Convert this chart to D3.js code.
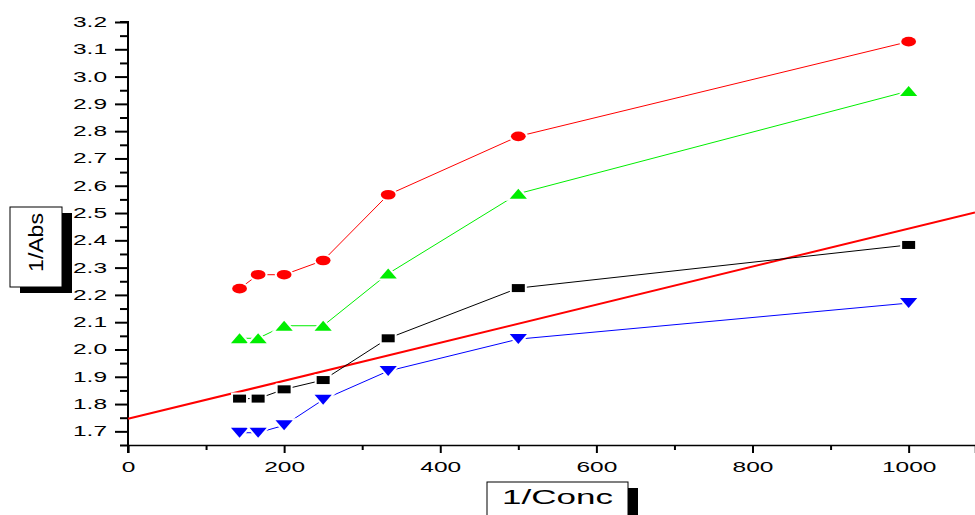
<!DOCTYPE html>
<html>
<head>
<meta charset="utf-8">
<script src="https://cdn.jsdelivr.net/npm/d3@7"></script>
<style>
  body { margin: 0; background: #fff; }
  text { font-family: "Liberation Sans", Arial, sans-serif; fill: #000; }
</style>
</head>
<body>
<div class="chart"></div>
<script>
// data
var concX = [142.9, 166.7, 200, 250, 333.3, 500, 1000];
var redCircles = [2.223, 2.274, 2.274, 2.326, 2.567, 2.781, 3.128];
var greenUp = [2.041, 2.041, 2.087, 2.087, 2.278, 2.571, 2.947];
var blackSquares = [1.820, 1.820, 1.854, 1.888, 2.041, 2.225, 2.383];
var blueDown = [1.695, 1.695, 1.722, 1.816, 1.921, 2.038, 2.170];
// linear fit line (intercept, slope)
var fitLine = [1.746, 0.000697];

var xTicks = [0, 200, 400, 600, 800, 1000];
var xMinor = [100, 300, 500, 700, 900];
var yTicks = [1.7, 1.8, 1.9, 2.0, 2.1, 2.2, 2.3, 2.4, 2.5, 2.6, 2.7, 2.8, 2.9, 3.0, 3.1, 3.2];
var yMinor = [1.65, 1.75, 1.85, 1.95, 2.05, 2.15, 2.25, 2.35, 2.45, 2.55, 2.65, 2.75, 2.85, 2.95, 3.05, 3.15];

var svgWidth = 975;
var svgHeight = 515;
var stretch = 1.75; // text in the picture is wide

var svg = d3.select(".chart")
   .append("svg")
   .attr("width", svgWidth)
   .attr("height", svgHeight);

svg.append("rect").attr("width", svgWidth).attr("height", svgHeight).attr("fill", "#fff");

var xLinearScale = d3.scaleLinear().domain([0, 1085]).range([128, 975]);
var yLinearScale = d3.scaleLinear().domain([1.65, 3.2]).range([445, 22]);

// Axes
var bottomAxis = d3.axisBottom(xLinearScale).tickValues(xTicks).tickSize(8).tickFormat(d3.format("d"));
var bottomMinor = d3.axisBottom(xLinearScale).tickValues(xMinor).tickSize(5).tickFormat("");
var leftAxis = d3.axisLeft(yLinearScale).tickValues(yTicks).tickSize(13).tickFormat(d3.format(".1f"));
var leftMinor = d3.axisLeft(yLinearScale).tickValues(yMinor).tickSize(8).tickFormat("");

var xg = svg.append("g").attr("transform", "translate(0,445)").call(bottomAxis);
svg.append("g").attr("transform", "translate(0,445)").call(bottomMinor).select(".domain").remove();
xg.select(".domain").attr("stroke-width", 1.5);
xg.selectAll(".tick line").attr("stroke-width", 2);
xg.selectAll(".tick text")
  .attr("y", 0).attr("dy", null)
  .attr("transform", "translate(0,26.5) scale(" + stretch + ",1)")
  .style("font-size", "14px");

var yg = svg.append("g").attr("transform", "translate(128,0)").call(leftAxis);
svg.append("g").attr("transform", "translate(128,0)").call(leftMinor).select(".domain").remove();
yg.select(".domain").attr("stroke-width", 2).attr("d", "M-8,22H0V453");
yg.selectAll(".tick line").attr("stroke-width", 2);
yg.selectAll(".tick text")
  .attr("x", 0)
  .attr("transform", "translate(-21,0) scale(" + stretch + ",1)")
  .style("font-size", "14px");
svg.selectAll(".tick line").attr("stroke-width", 2);
svg.selectAll(".domain").attr("stroke", "#000");

// fit line
svg.append("line")
  .attr("x1", xLinearScale(0))
  .attr("y1", yLinearScale(fitLine[0]))
  .attr("x2", xLinearScale(1085))
  .attr("y2", yLinearScale(fitLine[0] + fitLine[1] * 1085))
  .attr("stroke", "#ff0000")
  .attr("stroke-width", 2);

// series
var series = [
  { values: redCircles, color: "#ff0000", shape: "circle" },
  { values: greenUp, color: "#00ee00", shape: "up" },
  { values: blackSquares, color: "#000000", shape: "square" },
  { values: blueDown, color: "#0000ff", shape: "down" }
];

var line = d3.line()
  .x(d => xLinearScale(d[0]))
  .y(d => yLinearScale(d[1]));

function markerPath(shape) {
  if (shape === "circle") return d3.path();
  if (shape === "up") return "M0,-5L8.6,5L-8.6,5Z";
  if (shape === "down") return "M0,5L8.6,-5L-8.6,-5Z";
  return "M-6.5,-4H6.5V4H-6.5Z";
}

series.forEach(function(s) {
  var pts = concX.map((x, i) => [x, s.values[i]]);
  svg.append("path")
    .attr("d", line(pts))
    .attr("fill", "none")
    .attr("stroke", s.color)
    .attr("stroke-width", 1);

  var g = svg.append("g");
  if (s.shape === "circle") {
    g.selectAll("ellipse")
      .data(pts)
      .enter()
      .append("ellipse")
      .attr("cx", d => xLinearScale(d[0]))
      .attr("cy", d => yLinearScale(d[1]))
      .attr("rx", 7.4)
      .attr("ry", 4.8)
      .attr("fill", s.color)
      .attr("stroke", "#fff")
      .attr("stroke-width", 4)
      .style("paint-order", "stroke");
  } else {
    g.selectAll("path")
      .data(pts)
      .enter()
      .append("path")
      .attr("d", markerPath(s.shape))
      .attr("transform", d => `translate(${xLinearScale(d[0])},${yLinearScale(d[1])})`)
      .attr("fill", s.color)
      .attr("stroke", "#fff")
      .attr("stroke-width", 4)
      .attr("stroke-linejoin", "miter")
      .style("paint-order", "stroke");
  }
});

// Y label box with shadow
svg.append("rect").attr("x", 20).attr("y", 213).attr("width", 52).attr("height", 80).attr("fill", "#000");
svg.append("rect").attr("x", 10).attr("y", 207).attr("width", 52).attr("height", 80)
  .attr("fill", "#fff").attr("stroke", "#000").attr("stroke-width", 1);
svg.append("text")
  .attr("transform", "translate(43,242.5) rotate(-90) scale(1.15,1)")
  .attr("text-anchor", "middle")
  .style("font-size", "20px")
  .text("1/Abs");

// X label box with shadow
svg.append("rect").attr("x", 497).attr("y", 488).attr("width", 141).attr("height", 40).attr("fill", "#000");
svg.append("rect").attr("x", 487).attr("y", 482).attr("width", 141).attr("height", 40)
  .attr("fill", "#fff").attr("stroke", "#000").attr("stroke-width", 1);
svg.append("text")
  .attr("transform", "translate(557.5,504) scale(" + stretch + ",1)")
  .attr("text-anchor", "middle")
  .style("font-size", "20px")
  .text("1/Conc");
</script>
</body>
</html>
